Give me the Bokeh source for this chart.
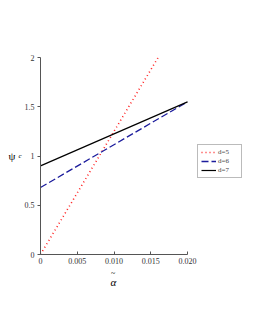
from bokeh.plotting import figure
from bokeh.models import Range1d, FixedTicker, Legend, LegendItem, LinearAxis, Title
from bokeh.embed import file_html
from bokeh.resources import INLINE

# data
alpha_d5 = [0.0, 0.016]
psi_d5 = [0.0, 2.0]
alpha_d6 = [0.0, 0.020]
psi_d6 = [0.68, 1.55]
alpha_d7 = [0.0, 0.020]
psi_d7 = [0.90, 1.55]
series_labels = ["d=5", "d=6", "d=7"]
x_ticks = [0.0, 0.005, 0.010, 0.015, 0.020]
x_tick_labels = ["0", "0.005", "0.010", "0.015", "0.020"]
y_ticks = [0.0, 0.5, 1.0, 1.5, 2.0]
y_tick_labels = ["0", "0.5", "1", "1.5", "2"]

FONT = "Liberation Serif"
X_MAX = 0.02
FRAME_W = 205
AXIS_W = 147

p = figure(width=250, height=320, output_backend="svg", toolbar_location=None,
           x_range=Range1d(0, X_MAX * FRAME_W / AXIS_W), y_range=Range1d(0, 2),
           min_border_left=40, min_border_right=5, min_border_top=57, min_border_bottom=66)
p.outline_line_color = None
p.grid.visible = False

r5 = p.line(alpha_d5, psi_d5, line_color="#ff2020", line_width=1.6, line_dash="1 3")
r6 = p.line(alpha_d6, psi_d6, line_color="#1c1c9c", line_width=1.3, line_dash="7 3")
r7 = p.line(alpha_d7, psi_d7, line_color="black", line_width=1.2)

for ax in (p.xaxis[0], p.yaxis[0]):
    ax.axis_line_color = "#555555"
    ax.axis_line_width = 1
    ax.major_tick_line_color = "#555555"
    ax.minor_tick_line_color = None
    ax.major_label_text_font = FONT
    ax.major_label_text_font_size = "8px"
    ax.major_label_text_color = "#333333"
    ax.axis_label_text_font = FONT
    ax.axis_label_text_color = "black"

p.xaxis.bounds = (0, X_MAX)
p.xaxis.ticker = FixedTicker(ticks=x_ticks)
p.xaxis.major_label_overrides = {t: l for t, l in zip(x_ticks, x_tick_labels)}
p.xaxis.major_tick_in = 3
p.xaxis.major_tick_out = 0
p.xaxis.major_label_standoff = 3

p.add_layout(Title(text="~", align="left", offset=70.5, standoff=0,
                   text_font=FONT, text_font_size="8px", text_font_style="normal",
                   text_color="black"), "below")
p.add_layout(Title(text="α", align="left", offset=70, standoff=-7,
                   text_font=FONT, text_font_size="11px", text_font_style="italic",
                   text_color="black"), "below")

p.yaxis.ticker = FixedTicker(ticks=y_ticks)
p.yaxis.major_label_overrides = {t: l for t, l in zip(y_ticks, y_tick_labels)}
p.yaxis.major_tick_in = 0
p.yaxis.major_tick_out = 3
p.yaxis.major_label_standoff = 3
p.yaxis.axis_label = "c"
p.yaxis.axis_label_orientation = "horizontal"
p.yaxis.axis_label_text_font_size = "7px"
p.yaxis.axis_label_text_font_style = "italic"
p.yaxis.axis_label_standoff = 0
p.yaxis.axis_label_text_baseline = "top"

psi_axis = LinearAxis(ticker=FixedTicker(ticks=[]), axis_label="ψ",
                      axis_label_orientation="horizontal", axis_label_standoff=0,
                      axis_line_color=None, major_tick_line_color=None,
                      minor_tick_line_color=None, major_label_text_font_size="0px",
                      major_tick_in=0, major_tick_out=0, major_label_standoff=0,
                      axis_label_text_font=FONT, axis_label_text_font_size="11px",
                      axis_label_text_font_style="normal", axis_label_text_color="black")
p.add_layout(psi_axis, "left")

legend = Legend(items=[LegendItem(label=series_labels[0], renderers=[r5]),
                       LegendItem(label=series_labels[1], renderers=[r6]),
                       LegendItem(label=series_labels[2], renderers=[r7])],
                location=(157, 76))
legend.label_text_font = FONT
legend.label_text_font_size = "7px"
legend.label_height = 7
legend.glyph_height = 8
legend.glyph_width = 15
legend.label_standoff = 2
legend.spacing = 1
legend.padding = 3
legend.margin = 0
legend.border_line_color = "#777777"
legend.border_line_width = 1
legend.background_fill_alpha = 1
p.add_layout(legend, "center")

open("out.html", "w").write(file_html(p, INLINE))
